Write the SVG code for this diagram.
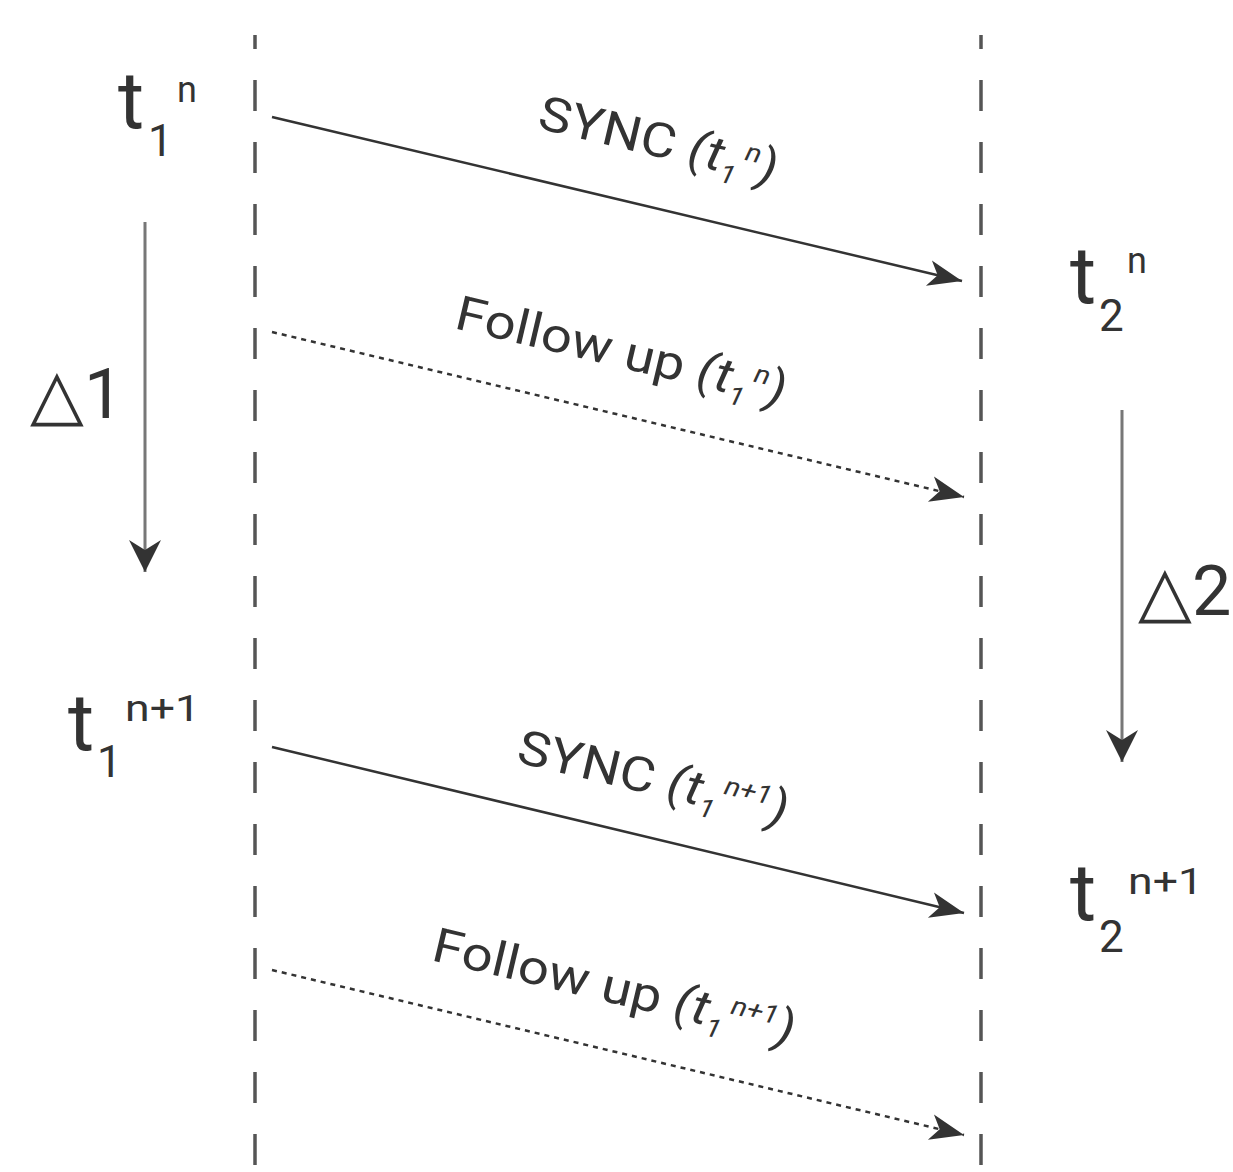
<svg xmlns="http://www.w3.org/2000/svg" width="1233" height="1172" viewBox="0 0 1233 1172">
<style>
.life{stroke:#555;stroke-width:3.5;stroke-dasharray:31 31;stroke-dashoffset:17;fill:none}
.msg{stroke:#333;stroke-width:2.5;fill:none}
.dot{stroke:#333;stroke-width:2.5;stroke-dasharray:5 5;fill:none}
.dur{stroke:#777;stroke-width:3;fill:none}
.lbl{font-family:Roboto,"Liberation Sans",sans-serif;fill:#333}
.big{font-size:80px}
.sub{font-size:44px}
.sup{font-size:36px}
.ml{font-family:Roboto,"Liberation Sans",sans-serif;fill:#333;font-size:48px}
.ms{font-style:italic;font-size:26px}
.mp{font-style:italic}
.delta{font-family:Roboto,"Liberation Sans",sans-serif;fill:#333;font-size:70px}
</style>
<defs>
<marker id="ah" markerUnits="userSpaceOnUse" markerWidth="40" markerHeight="40" viewBox="-36 -16 40 32" refX="0" refY="0" orient="auto">
<path d="M0,0 L-34,-13 L-25,0 L-34,13 Z" fill="#333"/>
</marker>
<marker id="ahv" markerUnits="userSpaceOnUse" markerWidth="40" markerHeight="40" viewBox="-36 -18 40 36" refX="0" refY="0" orient="auto">
<path d="M0,0 L-32,-16 L-22,0 L-32,16 Z" fill="#333"/>
</marker>
</defs>
<rect width="1233" height="1172" fill="#fff"/>
<g id="lifelines">
<line class="life" x1="255" y1="35" x2="255" y2="1172"/>
<line class="life" x1="981" y1="35" x2="981" y2="1172"/>
</g>
<g id="connectors">
<line class="msg" x1="272" y1="117" x2="962" y2="281" marker-end="url(#ah)"/>
<line class="dot" x1="272" y1="332" x2="964" y2="497" marker-end="url(#ah)"/>
<line class="msg" x1="272" y1="747" x2="964" y2="913" marker-end="url(#ah)"/>
<line class="dot" x1="272" y1="970" x2="964" y2="1135" marker-end="url(#ah)"/>
<line class="dur" x1="145" y1="222" x2="145" y2="572" marker-end="url(#ahv)"/>
<line class="dur" x1="1122" y1="410" x2="1122" y2="762" marker-end="url(#ahv)"/>
</g>
<g id="t1n"><text class="lbl" x="118" y="128"><tspan class="big">t</tspan><tspan class="sub" x="148" y="156">1</tspan><tspan class="sup" x="177" y="102">n</tspan></text></g>
<g id="t2n"><text class="lbl" x="1070" y="303"><tspan class="big">t</tspan><tspan class="sub" x="1099" y="331">2</tspan><tspan class="sup" x="1127" y="273">n</tspan></text></g>
<g id="t1n1"><text class="lbl" x="68" y="750"><tspan class="big">t</tspan><tspan class="sub" x="97" y="777">1</tspan><tspan class="sup" x="125" y="721" textLength="75" lengthAdjust="spacingAndGlyphs">n+1</tspan></text></g>
<g id="t2n1"><text class="lbl" x="1070" y="920"><tspan class="big">t</tspan><tspan class="sub" x="1099" y="952">2</tspan><tspan class="sup" x="1128" y="894" textLength="75" lengthAdjust="spacingAndGlyphs">n+1</tspan></text></g>
<g id="d1"><text class="delta" x="30" y="418">△1</text></g>
<g id="d2"><text class="delta" x="1138" y="615">△2</text></g>
<g id="sync1"><text class="ml" transform="translate(536,128) rotate(13.3) scale(1.14,1)">SYNC <tspan class="mp">(t</tspan><tspan class="ms" dy="10">1</tspan><tspan class="ms" dx="4" dy="-27">n</tspan><tspan class="mp" dy="17">)</tspan></text></g>
<g id="fu1"><text class="ml" transform="translate(453,328) rotate(13.3) scale(1.14,1)">Follow up <tspan class="mp">(t</tspan><tspan class="ms" dy="10">1</tspan><tspan class="ms" dx="4" dy="-27">n</tspan><tspan class="mp" dy="17">)</tspan></text></g>
<g id="sync2"><text class="ml" transform="translate(515,762) rotate(13.3) scale(1.14,1)">SYNC <tspan class="mp">(t</tspan><tspan class="ms" dy="10">1</tspan><tspan class="ms" dx="4" dy="-27">n+1</tspan><tspan class="mp" dy="17">)</tspan></text></g>
<g id="fu2"><text class="ml" transform="translate(430,960) rotate(13.3) scale(1.14,1)">Follow up <tspan class="mp">(t</tspan><tspan class="ms" dy="10">1</tspan><tspan class="ms" dx="4" dy="-27">n+1</tspan><tspan class="mp" dy="17">)</tspan></text></g>
</svg>
